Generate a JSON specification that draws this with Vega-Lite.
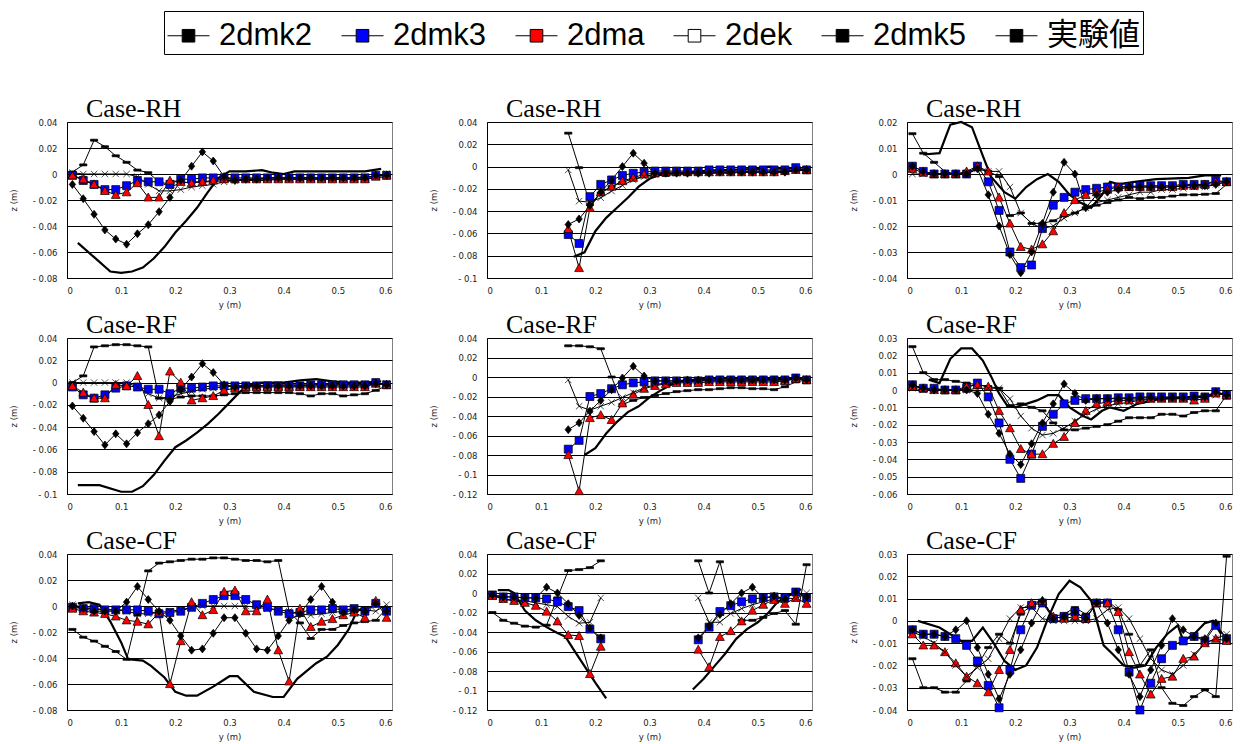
{
"$schema": "https://vega.github.io/schema/vega-lite/v6.json",
"padding": {"left": 8, "top": 10, "right": 4, "bottom": 0},
"data": {"values": [
{"p":1,"x":0.01,"2dmk2":0.0015,"2dmk3":-0.001,"2dma":-0.001,"2dek":0.001,"2dmk5":-0.008},
{"p":1,"x":0.03,"2dmk2":0.007,"2dmk3":-0.005,"2dma":-0.004,"2dek":0.0,"2dmk5":-0.019},
{"p":1,"x":0.05,"2dmk2":0.026,"2dmk3":-0.008,"2dma":-0.008,"2dek":0.0,"2dmk5":-0.031},
{"p":1,"x":0.07,"2dmk2":0.021,"2dmk3":-0.012,"2dma":-0.013,"2dek":0.0,"2dmk5":-0.043},
{"p":1,"x":0.09,"2dmk2":0.014,"2dmk3":-0.012,"2dma":-0.016,"2dek":0.0,"2dmk5":-0.050},
{"p":1,"x":0.11,"2dmk2":0.009,"2dmk3":-0.009,"2dma":-0.014,"2dek":0.0,"2dmk5":-0.054},
{"p":1,"x":0.13,"2dmk2":0.003,"2dmk3":-0.005,"2dma":-0.007,"2dek":-0.002,"2dmk5":-0.046},
{"p":1,"x":0.15,"2dmk2":0.001,"2dmk3":-0.006,"2dma":-0.018,"2dek":-0.008,"2dmk5":-0.039},
{"p":1,"x":0.17,"2dmk2":-0.006,"2dmk3":-0.006,"2dma":-0.018,"2dek":-0.013,"2dmk5":-0.029},
{"p":1,"x":0.19,"2dmk2":-0.010,"2dmk3":-0.008,"2dma":-0.005,"2dek":-0.013,"2dmk5":-0.018},
{"p":1,"x":0.21,"2dmk2":-0.007,"2dmk3":-0.004,"2dma":-0.006,"2dek":-0.012,"2dmk5":-0.005},
{"p":1,"x":0.23,"2dmk2":-0.006,"2dmk3":-0.004,"2dma":-0.007,"2dek":-0.010,"2dmk5":0.006},
{"p":1,"x":0.25,"2dmk2":-0.006,"2dmk3":-0.003,"2dma":-0.006,"2dek":-0.009,"2dmk5":0.017},
{"p":1,"x":0.27,"2dmk2":-0.006,"2dmk3":-0.003,"2dma":-0.005,"2dek":-0.008,"2dmk5":0.010},
{"p":1,"x":0.29,"2dmk2":-0.005,"2dmk3":-0.003,"2dma":-0.004,"2dek":-0.006,"2dmk5":-0.002},
{"p":1,"x":0.31,"2dmk2":-0.005,"2dmk3":-0.003,"2dma":-0.004,"2dek":-0.005,"2dmk5":-0.005},
{"p":1,"x":0.33,"2dmk2":-0.005,"2dmk3":-0.003,"2dma":-0.004,"2dek":-0.004,"2dmk5":-0.004},
{"p":1,"x":0.35,"2dmk2":-0.005,"2dmk3":-0.003,"2dma":-0.004,"2dek":-0.004,"2dmk5":-0.004},
{"p":1,"x":0.37,"2dmk2":-0.005,"2dmk3":-0.003,"2dma":-0.004,"2dek":-0.003,"2dmk5":-0.003},
{"p":1,"x":0.39,"2dmk2":-0.004,"2dmk3":-0.003,"2dma":-0.004,"2dek":-0.003,"2dmk5":-0.003},
{"p":1,"x":0.41,"2dmk2":-0.004,"2dmk3":-0.003,"2dma":-0.004,"2dek":-0.003,"2dmk5":-0.003},
{"p":1,"x":0.43,"2dmk2":-0.004,"2dmk3":-0.003,"2dma":-0.004,"2dek":-0.003,"2dmk5":-0.003},
{"p":1,"x":0.45,"2dmk2":-0.004,"2dmk3":-0.003,"2dma":-0.004,"2dek":-0.003,"2dmk5":-0.003},
{"p":1,"x":0.47,"2dmk2":-0.004,"2dmk3":-0.003,"2dma":-0.004,"2dek":-0.003,"2dmk5":-0.003},
{"p":1,"x":0.49,"2dmk2":-0.004,"2dmk3":-0.003,"2dma":-0.004,"2dek":-0.003,"2dmk5":-0.003},
{"p":1,"x":0.51,"2dmk2":-0.004,"2dmk3":-0.003,"2dma":-0.004,"2dek":-0.003,"2dmk5":-0.003},
{"p":1,"x":0.53,"2dmk2":-0.004,"2dmk3":-0.003,"2dma":-0.004,"2dek":-0.003,"2dmk5":-0.003},
{"p":1,"x":0.55,"2dmk2":-0.004,"2dmk3":-0.003,"2dma":-0.004,"2dek":-0.002,"2dmk5":-0.003},
{"p":1,"x":0.57,"2dmk2":-0.003,"2dmk3":-0.001,"2dma":-0.002,"2dek":-0.002,"2dmk5":-0.001},
{"p":1,"x":0.59,"2dmk2":-0.002,"2dmk3":-0.001,"2dma":-0.001,"2dek":0.0,"2dmk5":-0.001},
{"p":1,"x":0.02,"実験値":-0.053},{"p":1,"x":0.05,"実験値":-0.064},{"p":1,"x":0.08,"実験値":-0.075},{"p":1,"x":0.10,"実験値":-0.076},{"p":1,"x":0.12,"実験値":-0.075},{"p":1,"x":0.14,"実験値":-0.072},{"p":1,"x":0.16,"実験値":-0.065},{"p":1,"x":0.18,"実験値":-0.056},{"p":1,"x":0.20,"実験値":-0.045},{"p":1,"x":0.22,"実験値":-0.036},{"p":1,"x":0.24,"実験値":-0.026},{"p":1,"x":0.26,"実験値":-0.014},{"p":1,"x":0.28,"実験値":-0.003},{"p":1,"x":0.30,"実験値":0.002},{"p":1,"x":0.33,"実験値":0.002},{"p":1,"x":0.36,"実験値":0.003},{"p":1,"x":0.38,"実験値":0.001},{"p":1,"x":0.40,"実験値":0.0},{"p":1,"x":0.42,"実験値":0.002},{"p":1,"x":0.46,"実験値":0.002},{"p":1,"x":0.50,"実験値":0.002},{"p":1,"x":0.55,"実験値":0.002},{"p":1,"x":0.58,"実験値":0.004},

{"p":2,"x":0.15,"2dmk2":0.030,"2dmk3":-0.061,"2dma":-0.056,"2dek":-0.003,"2dmk5":-0.052},
{"p":2,"x":0.17,"2dmk2":-0.001,"2dmk3":-0.069,"2dma":-0.091,"2dek":-0.031,"2dmk5":-0.047},
{"p":2,"x":0.19,"2dmk2":-0.034,"2dmk3":-0.027,"2dma":-0.037,"2dek":-0.032,"2dmk5":-0.035},
{"p":2,"x":0.21,"2dmk2":-0.024,"2dmk3":-0.016,"2dma":-0.023,"2dek":-0.028,"2dmk5":-0.023},
{"p":2,"x":0.23,"2dmk2":-0.018,"2dmk3":-0.012,"2dma":-0.018,"2dek":-0.022,"2dmk5":-0.012},
{"p":2,"x":0.25,"2dmk2":-0.014,"2dmk3":-0.008,"2dma":-0.013,"2dek":-0.017,"2dmk5":0.0},
{"p":2,"x":0.27,"2dmk2":-0.011,"2dmk3":-0.006,"2dma":-0.010,"2dek":-0.012,"2dmk5":0.012},
{"p":2,"x":0.29,"2dmk2":-0.009,"2dmk3":-0.005,"2dma":-0.007,"2dek":-0.009,"2dmk5":0.003},
{"p":2,"x":0.31,"2dmk2":-0.008,"2dmk3":-0.004,"2dma":-0.006,"2dek":-0.007,"2dmk5":-0.006},
{"p":2,"x":0.33,"2dmk2":-0.008,"2dmk3":-0.004,"2dma":-0.005,"2dek":-0.006,"2dmk5":-0.006},
{"p":2,"x":0.35,"2dmk2":-0.007,"2dmk3":-0.004,"2dma":-0.005,"2dek":-0.006,"2dmk5":-0.006},
{"p":2,"x":0.37,"2dmk2":-0.007,"2dmk3":-0.004,"2dma":-0.005,"2dek":-0.005,"2dmk5":-0.006},
{"p":2,"x":0.39,"2dmk2":-0.006,"2dmk3":-0.004,"2dma":-0.005,"2dek":-0.005,"2dmk5":-0.006},
{"p":2,"x":0.41,"2dmk2":-0.006,"2dmk3":-0.003,"2dma":-0.005,"2dek":-0.005,"2dmk5":-0.006},
{"p":2,"x":0.43,"2dmk2":-0.006,"2dmk3":-0.003,"2dma":-0.005,"2dek":-0.005,"2dmk5":-0.005},
{"p":2,"x":0.45,"2dmk2":-0.006,"2dmk3":-0.003,"2dma":-0.005,"2dek":-0.005,"2dmk5":-0.005},
{"p":2,"x":0.47,"2dmk2":-0.005,"2dmk3":-0.003,"2dma":-0.005,"2dek":-0.005,"2dmk5":-0.005},
{"p":2,"x":0.49,"2dmk2":-0.005,"2dmk3":-0.003,"2dma":-0.005,"2dek":-0.004,"2dmk5":-0.005},
{"p":2,"x":0.51,"2dmk2":-0.005,"2dmk3":-0.003,"2dma":-0.005,"2dek":-0.004,"2dmk5":-0.005},
{"p":2,"x":0.53,"2dmk2":-0.005,"2dmk3":-0.003,"2dma":-0.005,"2dek":-0.004,"2dmk5":-0.005},
{"p":2,"x":0.55,"2dmk2":-0.005,"2dmk3":-0.003,"2dma":-0.004,"2dek":-0.004,"2dmk5":-0.005},
{"p":2,"x":0.57,"2dmk2":-0.004,"2dmk3":-0.001,"2dma":-0.003,"2dek":-0.003,"2dmk5":-0.003},
{"p":2,"x":0.59,"2dmk2":-0.003,"2dmk3":-0.003,"2dma":-0.003,"2dek":-0.003,"2dmk5":-0.003},
{"p":2,"x":0.16,"実験値":-0.081},{"p":2,"x":0.18,"実験値":-0.077},{"p":2,"x":0.20,"実験値":-0.058},{"p":2,"x":0.22,"実験値":-0.046},{"p":2,"x":0.24,"実験値":-0.037},{"p":2,"x":0.26,"実験値":-0.028},{"p":2,"x":0.28,"実験値":-0.018},{"p":2,"x":0.30,"実験値":-0.011},{"p":2,"x":0.32,"実験値":-0.007},{"p":2,"x":0.35,"実験値":-0.006},{"p":2,"x":0.40,"実験値":-0.004},{"p":2,"x":0.45,"実験値":-0.003},{"p":2,"x":0.50,"実験値":-0.002},{"p":2,"x":0.52,"実験値":0.0},{"p":2,"x":0.55,"実験値":-0.002},{"p":2,"x":0.58,"実験値":-0.001},

{"p":3,"x":0.01,"2dmk2":0.0155,"2dmk3":0.003,"2dma":0.002,"2dek":0.0,"2dmk5":0.003},
{"p":3,"x":0.03,"2dmk2":0.008,"2dmk3":0.001,"2dma":0.0005,"2dek":0.0,"2dmk5":0.001},
{"p":3,"x":0.05,"2dmk2":0.0045,"2dmk3":0.0,"2dma":0.0,"2dek":0.0,"2dmk5":0.0},
{"p":3,"x":0.07,"2dmk2":0.001,"2dmk3":0.0,"2dma":0.0,"2dek":0.0,"2dmk5":0.0},
{"p":3,"x":0.09,"2dmk2":0.0,"2dmk3":0.0,"2dma":0.0,"2dek":0.0,"2dmk5":0.0},
{"p":3,"x":0.11,"2dmk2":0.0,"2dmk3":0.0,"2dma":0.001,"2dek":0.0,"2dmk5":0.0},
{"p":3,"x":0.13,"2dmk2":0.002,"2dmk3":0.003,"2dma":0.003,"2dek":0.002,"2dmk5":0.002},
{"p":3,"x":0.15,"2dmk2":0.001,"2dmk3":-0.003,"2dma":0.001,"2dek":0.001,"2dmk5":-0.008},
{"p":3,"x":0.17,"2dmk2":-0.001,"2dmk3":-0.014,"2dma":-0.009,"2dek":0.001,"2dmk5":-0.020},
{"p":3,"x":0.19,"2dmk2":-0.016,"2dmk3":-0.030,"2dma":-0.019,"2dek":-0.005,"2dmk5":-0.031},
{"p":3,"x":0.21,"2dmk2":-0.015,"2dmk3":-0.036,"2dma":-0.028,"2dek":-0.015,"2dmk5":-0.038},
{"p":3,"x":0.23,"2dmk2":-0.019,"2dmk3":-0.035,"2dma":-0.029,"2dek":-0.019,"2dmk5":-0.030},
{"p":3,"x":0.25,"2dmk2":-0.019,"2dmk3":-0.021,"2dma":-0.027,"2dek":-0.021,"2dmk5":-0.019},
{"p":3,"x":0.27,"2dmk2":-0.018,"2dmk3":-0.012,"2dma":-0.022,"2dek":-0.020,"2dmk5":-0.007},
{"p":3,"x":0.29,"2dmk2":-0.016,"2dmk3":-0.009,"2dma":-0.015,"2dek":-0.017,"2dmk5":0.0045},
{"p":3,"x":0.31,"2dmk2":-0.015,"2dmk3":-0.007,"2dma":-0.010,"2dek":-0.015,"2dmk5":0.0},
{"p":3,"x":0.33,"2dmk2":-0.013,"2dmk3":-0.006,"2dma":-0.008,"2dek":-0.013,"2dmk5":-0.013},
{"p":3,"x":0.35,"2dmk2":-0.012,"2dmk3":-0.0055,"2dma":-0.007,"2dek":-0.011,"2dmk5":-0.008},
{"p":3,"x":0.37,"2dmk2":-0.011,"2dmk3":-0.005,"2dma":-0.006,"2dek":-0.010,"2dmk5":-0.007},
{"p":3,"x":0.39,"2dmk2":-0.010,"2dmk3":-0.005,"2dma":-0.005,"2dek":-0.009,"2dmk5":-0.006},
{"p":3,"x":0.41,"2dmk2":-0.009,"2dmk3":-0.0048,"2dma":-0.005,"2dek":-0.008,"2dmk5":-0.005},
{"p":3,"x":0.43,"2dmk2":-0.0095,"2dmk3":-0.0046,"2dma":-0.005,"2dek":-0.007,"2dmk5":-0.005},
{"p":3,"x":0.45,"2dmk2":-0.009,"2dmk3":-0.0045,"2dma":-0.005,"2dek":-0.007,"2dmk5":-0.005},
{"p":3,"x":0.47,"2dmk2":-0.009,"2dmk3":-0.0045,"2dma":-0.005,"2dek":-0.006,"2dmk5":-0.005},
{"p":3,"x":0.49,"2dmk2":-0.0085,"2dmk3":-0.0045,"2dma":-0.005,"2dek":-0.006,"2dmk5":-0.005},
{"p":3,"x":0.51,"2dmk2":-0.008,"2dmk3":-0.004,"2dma":-0.0045,"2dek":-0.0055,"2dmk5":-0.0045},
{"p":3,"x":0.53,"2dmk2":-0.008,"2dmk3":-0.004,"2dma":-0.0045,"2dek":-0.005,"2dmk5":-0.0045},
{"p":3,"x":0.55,"2dmk2":-0.0078,"2dmk3":-0.004,"2dma":-0.004,"2dek":-0.005,"2dmk5":-0.0045},
{"p":3,"x":0.57,"2dmk2":-0.0075,"2dmk3":-0.0025,"2dma":-0.003,"2dek":-0.004,"2dmk5":-0.004},
{"p":3,"x":0.59,"2dmk2":-0.004,"2dmk3":-0.003,"2dma":-0.003,"2dek":-0.003,"2dmk5":-0.003},
{"p":3,"x":0.03,"実験値":0.0075},{"p":3,"x":0.06,"実験値":0.008},{"p":3,"x":0.08,"実験値":0.019},{"p":3,"x":0.10,"実験値":0.020},{"p":3,"x":0.12,"実験値":0.018},{"p":3,"x":0.14,"実験値":0.007},{"p":3,"x":0.155,"実験値":-0.001},{"p":3,"x":0.18,"実験値":-0.007},{"p":3,"x":0.20,"実験値":-0.0095},{"p":3,"x":0.22,"実験値":-0.005},{"p":3,"x":0.24,"実験値":-0.002},{"p":3,"x":0.26,"実験値":0.0},{"p":3,"x":0.28,"実験値":-0.003},{"p":3,"x":0.30,"実験値":-0.008},{"p":3,"x":0.32,"実験値":-0.011},{"p":3,"x":0.34,"実験値":-0.013},{"p":3,"x":0.36,"実験値":-0.008},{"p":3,"x":0.375,"実験値":-0.003},{"p":3,"x":0.39,"実験値":-0.004},{"p":3,"x":0.42,"実験値":-0.003},{"p":3,"x":0.46,"実験値":-0.002},{"p":3,"x":0.52,"実験値":-0.0015},{"p":3,"x":0.55,"実験値":-0.0005},{"p":3,"x":0.58,"実験値":-0.0005},

{"p":4,"x":0.01,"2dmk2":0.0,"2dmk3":-0.004,"2dma":-0.003,"2dek":0.0,"2dmk5":-0.021},
{"p":4,"x":0.03,"2dmk2":0.006,"2dmk3":-0.011,"2dma":-0.009,"2dek":0.0,"2dmk5":-0.032},
{"p":4,"x":0.05,"2dmk2":0.032,"2dmk3":-0.014,"2dma":-0.014,"2dek":0.0,"2dmk5":-0.044},
{"p":4,"x":0.07,"2dmk2":0.033,"2dmk3":-0.011,"2dma":-0.014,"2dek":0.0,"2dmk5":-0.056},
{"p":4,"x":0.09,"2dmk2":0.034,"2dmk3":-0.005,"2dma":-0.002,"2dek":0.0,"2dmk5":-0.046},
{"p":4,"x":0.11,"2dmk2":0.034,"2dmk3":-0.003,"2dma":-0.003,"2dek":0.0,"2dmk5":-0.055},
{"p":4,"x":0.13,"2dmk2":0.033,"2dmk3":-0.004,"2dma":0.006,"2dek":-0.004,"2dmk5":-0.045},
{"p":4,"x":0.15,"2dmk2":0.032,"2dmk3":-0.006,"2dma":-0.020,"2dek":-0.010,"2dmk5":-0.037},
{"p":4,"x":0.17,"2dmk2":-0.014,"2dmk3":-0.006,"2dma":-0.048,"2dek":-0.014,"2dmk5":-0.029},
{"p":4,"x":0.19,"2dmk2":-0.015,"2dmk3":-0.010,"2dma":0.010,"2dek":-0.013,"2dmk5":-0.017},
{"p":4,"x":0.21,"2dmk2":-0.013,"2dmk3":-0.005,"2dma":0.0,"2dek":-0.010,"2dmk5":-0.006},
{"p":4,"x":0.23,"2dmk2":-0.012,"2dmk3":-0.005,"2dma":-0.016,"2dek":-0.008,"2dmk5":0.005},
{"p":4,"x":0.25,"2dmk2":-0.012,"2dmk3":-0.004,"2dma":-0.014,"2dek":-0.006,"2dmk5":0.017},
{"p":4,"x":0.27,"2dmk2":-0.012,"2dmk3":-0.003,"2dma":-0.012,"2dek":-0.005,"2dmk5":0.009},
{"p":4,"x":0.29,"2dmk2":-0.011,"2dmk3":-0.003,"2dma":-0.007,"2dek":-0.004,"2dmk5":-0.002},
{"p":4,"x":0.31,"2dmk2":-0.010,"2dmk3":-0.003,"2dma":-0.005,"2dek":-0.003,"2dmk5":-0.004},
{"p":4,"x":0.33,"2dmk2":-0.009,"2dmk3":-0.003,"2dma":-0.004,"2dek":-0.003,"2dmk5":-0.003},
{"p":4,"x":0.35,"2dmk2":-0.009,"2dmk3":-0.003,"2dma":-0.004,"2dek":-0.003,"2dmk5":-0.003},
{"p":4,"x":0.37,"2dmk2":-0.009,"2dmk3":-0.003,"2dma":-0.004,"2dek":-0.002,"2dmk5":-0.003},
{"p":4,"x":0.39,"2dmk2":-0.009,"2dmk3":-0.003,"2dma":-0.004,"2dek":-0.002,"2dmk5":-0.003},
{"p":4,"x":0.41,"2dmk2":-0.009,"2dmk3":-0.003,"2dma":-0.004,"2dek":-0.002,"2dmk5":-0.003},
{"p":4,"x":0.43,"2dmk2":-0.010,"2dmk3":-0.003,"2dma":-0.004,"2dek":-0.002,"2dmk5":-0.003},
{"p":4,"x":0.45,"2dmk2":-0.012,"2dmk3":-0.002,"2dma":-0.004,"2dek":-0.002,"2dmk5":-0.003},
{"p":4,"x":0.47,"2dmk2":-0.010,"2dmk3":-0.002,"2dma":-0.004,"2dek":-0.002,"2dmk5":-0.003},
{"p":4,"x":0.49,"2dmk2":-0.010,"2dmk3":-0.002,"2dma":-0.004,"2dek":-0.002,"2dmk5":-0.003},
{"p":4,"x":0.51,"2dmk2":-0.012,"2dmk3":-0.002,"2dma":-0.004,"2dek":-0.002,"2dmk5":-0.003},
{"p":4,"x":0.53,"2dmk2":-0.011,"2dmk3":-0.002,"2dma":-0.004,"2dek":-0.002,"2dmk5":-0.003},
{"p":4,"x":0.55,"2dmk2":-0.010,"2dmk3":-0.002,"2dma":-0.004,"2dek":-0.002,"2dmk5":-0.003},
{"p":4,"x":0.57,"2dmk2":-0.007,"2dmk3":0.0,"2dma":-0.001,"2dek":-0.001,"2dmk5":-0.001},
{"p":4,"x":0.59,"2dmk2":-0.003,"2dmk3":-0.002,"2dma":-0.002,"2dek":-0.001,"2dmk5":-0.002},
{"p":4,"x":0.02,"実験値":-0.092},{"p":4,"x":0.06,"実験値":-0.092},{"p":4,"x":0.10,"実験値":-0.098},{"p":4,"x":0.12,"実験値":-0.098},{"p":4,"x":0.14,"実験値":-0.093},{"p":4,"x":0.16,"実験値":-0.083},{"p":4,"x":0.18,"実験値":-0.070},{"p":4,"x":0.20,"実験値":-0.058},{"p":4,"x":0.22,"実験値":-0.052},{"p":4,"x":0.24,"実験値":-0.045},{"p":4,"x":0.26,"実験値":-0.037},{"p":4,"x":0.28,"実験値":-0.028},{"p":4,"x":0.30,"実験値":-0.018},{"p":4,"x":0.32,"実験値":-0.008},{"p":4,"x":0.34,"実験値":-0.002},{"p":4,"x":0.36,"実験値":0.0},{"p":4,"x":0.40,"実験値":0.0},{"p":4,"x":0.43,"実験値":0.002},{"p":4,"x":0.46,"実験値":0.003},{"p":4,"x":0.49,"実験値":0.001},{"p":4,"x":0.52,"実験値":0.0},{"p":4,"x":0.55,"実験値":0.0},{"p":4,"x":0.58,"実験値":0.001},

{"p":5,"x":0.15,"2dmk2":0.032,"2dmk3":-0.074,"2dma":-0.080,"2dek":-0.003,"2dmk5":-0.054},
{"p":5,"x":0.17,"2dmk2":0.032,"2dmk3":-0.065,"2dma":-0.117,"2dek":-0.030,"2dmk5":-0.047},
{"p":5,"x":0.19,"2dmk2":0.031,"2dmk3":-0.020,"2dma":-0.042,"2dek":-0.034,"2dmk5":-0.035},
{"p":5,"x":0.21,"2dmk2":0.029,"2dmk3":-0.017,"2dma":-0.039,"2dek":-0.030,"2dmk5":-0.024},
{"p":5,"x":0.23,"2dmk2":0.0,"2dmk3":-0.012,"2dma":-0.044,"2dek":-0.026,"2dmk5":-0.013},
{"p":5,"x":0.25,"2dmk2":-0.028,"2dmk3":-0.008,"2dma":-0.027,"2dek":-0.021,"2dmk5":-0.001},
{"p":5,"x":0.27,"2dmk2":-0.024,"2dmk3":-0.006,"2dma":-0.018,"2dek":-0.016,"2dmk5":0.011},
{"p":5,"x":0.29,"2dmk2":-0.021,"2dmk3":-0.005,"2dma":-0.012,"2dek":-0.011,"2dmk5":0.001},
{"p":5,"x":0.31,"2dmk2":-0.019,"2dmk3":-0.004,"2dma":-0.009,"2dek":-0.008,"2dmk5":-0.004},
{"p":5,"x":0.33,"2dmk2":-0.017,"2dmk3":-0.004,"2dma":-0.007,"2dek":-0.006,"2dmk5":-0.004},
{"p":5,"x":0.35,"2dmk2":-0.015,"2dmk3":-0.004,"2dma":-0.006,"2dek":-0.005,"2dmk5":-0.004},
{"p":5,"x":0.37,"2dmk2":-0.014,"2dmk3":-0.004,"2dma":-0.006,"2dek":-0.005,"2dmk5":-0.003},
{"p":5,"x":0.39,"2dmk2":-0.013,"2dmk3":-0.004,"2dma":-0.006,"2dek":-0.004,"2dmk5":-0.003},
{"p":5,"x":0.41,"2dmk2":-0.013,"2dmk3":-0.003,"2dma":-0.005,"2dek":-0.004,"2dmk5":-0.003},
{"p":5,"x":0.43,"2dmk2":-0.012,"2dmk3":-0.003,"2dma":-0.005,"2dek":-0.004,"2dmk5":-0.003},
{"p":5,"x":0.45,"2dmk2":-0.011,"2dmk3":-0.003,"2dma":-0.005,"2dek":-0.004,"2dmk5":-0.003},
{"p":5,"x":0.47,"2dmk2":-0.011,"2dmk3":-0.003,"2dma":-0.005,"2dek":-0.004,"2dmk5":-0.003},
{"p":5,"x":0.49,"2dmk2":-0.012,"2dmk3":-0.003,"2dma":-0.005,"2dek":-0.004,"2dmk5":-0.003},
{"p":5,"x":0.51,"2dmk2":-0.012,"2dmk3":-0.003,"2dma":-0.005,"2dek":-0.003,"2dmk5":-0.003},
{"p":5,"x":0.53,"2dmk2":-0.013,"2dmk3":-0.003,"2dma":-0.005,"2dek":-0.003,"2dmk5":-0.003},
{"p":5,"x":0.55,"2dmk2":-0.010,"2dmk3":-0.003,"2dma":-0.004,"2dek":-0.003,"2dmk5":-0.003},
{"p":5,"x":0.57,"2dmk2":-0.005,"2dmk3":-0.001,"2dma":-0.002,"2dek":-0.002,"2dmk5":-0.001},
{"p":5,"x":0.59,"2dmk2":-0.003,"2dmk3":-0.003,"2dma":-0.003,"2dek":-0.002,"2dmk5":-0.003},
{"p":5,"x":0.18,"実験値":-0.080},{"p":5,"x":0.20,"実験値":-0.073},{"p":5,"x":0.22,"実験値":-0.058},{"p":5,"x":0.24,"実験値":-0.046},{"p":5,"x":0.26,"実験値":-0.036},{"p":5,"x":0.28,"実験値":-0.030},{"p":5,"x":0.30,"実験値":-0.021},{"p":5,"x":0.32,"実験値":-0.014},{"p":5,"x":0.34,"実験値":-0.008},{"p":5,"x":0.36,"実験値":-0.004},{"p":5,"x":0.40,"実験値":-0.002},{"p":5,"x":0.45,"実験値":-0.001},{"p":5,"x":0.50,"実験値":-0.002},{"p":5,"x":0.55,"実験値":-0.002},{"p":5,"x":0.58,"実験値":-0.001},

{"p":6,"x":0.01,"2dmk2":0.025,"2dmk3":0.003,"2dma":0.002,"2dek":0.001,"2dmk5":0.003},
{"p":6,"x":0.03,"2dmk2":0.010,"2dmk3":0.001,"2dma":0.001,"2dek":0.0,"2dmk5":0.001},
{"p":6,"x":0.05,"2dmk2":0.006,"2dmk3":0.001,"2dma":0.0,"2dek":0.0,"2dmk5":0.0},
{"p":6,"x":0.07,"2dmk2":0.006,"2dmk3":0.0,"2dma":0.0,"2dek":0.0,"2dmk5":0.0},
{"p":6,"x":0.09,"2dmk2":0.005,"2dmk3":0.0,"2dma":0.0,"2dek":0.0,"2dmk5":0.0},
{"p":6,"x":0.11,"2dmk2":0.004,"2dmk3":0.001,"2dma":0.002,"2dek":0.0,"2dmk5":0.0},
{"p":6,"x":0.13,"2dmk2":0.003,"2dmk3":0.004,"2dma":0.003,"2dek":0.001,"2dmk5":-0.002},
{"p":6,"x":0.15,"2dmk2":0.002,"2dmk3":-0.004,"2dma":0.002,"2dek":0.001,"2dmk5":-0.014},
{"p":6,"x":0.17,"2dmk2":0.001,"2dmk3":-0.019,"2dma":-0.012,"2dek":0.001,"2dmk5":-0.025},
{"p":6,"x":0.19,"2dmk2":-0.009,"2dmk3":-0.040,"2dma":-0.022,"2dek":-0.005,"2dmk5":-0.037},
{"p":6,"x":0.21,"2dmk2":-0.008,"2dmk3":-0.051,"2dma":-0.034,"2dek":-0.015,"2dmk5":-0.043},
{"p":6,"x":0.23,"2dmk2":-0.010,"2dmk3":-0.037,"2dma":-0.037,"2dek":-0.022,"2dmk5":-0.031},
{"p":6,"x":0.25,"2dmk2":-0.012,"2dmk3":-0.021,"2dma":-0.037,"2dek":-0.026,"2dmk5":-0.019},
{"p":6,"x":0.27,"2dmk2":-0.019,"2dmk3":-0.014,"2dma":-0.031,"2dek":-0.025,"2dmk5":-0.008},
{"p":6,"x":0.29,"2dmk2":-0.023,"2dmk3":-0.008,"2dma":-0.027,"2dek":-0.022,"2dmk5":0.0035},
{"p":6,"x":0.31,"2dmk2":-0.023,"2dmk3":-0.006,"2dma":-0.019,"2dek":-0.018,"2dmk5":-0.002},
{"p":6,"x":0.33,"2dmk2":-0.022,"2dmk3":-0.005,"2dma":-0.012,"2dek":-0.014,"2dmk5":-0.006},
{"p":6,"x":0.35,"2dmk2":-0.021,"2dmk3":-0.005,"2dma":-0.008,"2dek":-0.011,"2dmk5":-0.005},
{"p":6,"x":0.37,"2dmk2":-0.020,"2dmk3":-0.005,"2dma":-0.007,"2dek":-0.009,"2dmk5":-0.005},
{"p":6,"x":0.39,"2dmk2":-0.018,"2dmk3":-0.0045,"2dma":-0.006,"2dek":-0.008,"2dmk5":-0.005},
{"p":6,"x":0.41,"2dmk2":-0.016,"2dmk3":-0.0045,"2dma":-0.006,"2dek":-0.007,"2dmk5":-0.005},
{"p":6,"x":0.43,"2dmk2":-0.016,"2dmk3":-0.004,"2dma":-0.0055,"2dek":-0.006,"2dmk5":-0.0045},
{"p":6,"x":0.45,"2dmk2":-0.016,"2dmk3":-0.004,"2dma":-0.005,"2dek":-0.0055,"2dmk5":-0.0045},
{"p":6,"x":0.47,"2dmk2":-0.014,"2dmk3":-0.004,"2dma":-0.005,"2dek":-0.005,"2dmk5":-0.0045},
{"p":6,"x":0.49,"2dmk2":-0.014,"2dmk3":-0.004,"2dma":-0.005,"2dek":-0.005,"2dmk5":-0.0045},
{"p":6,"x":0.51,"2dmk2":-0.015,"2dmk3":-0.004,"2dma":-0.005,"2dek":-0.005,"2dmk5":-0.0045},
{"p":6,"x":0.53,"2dmk2":-0.013,"2dmk3":-0.0035,"2dma":-0.006,"2dek":-0.0045,"2dmk5":-0.004},
{"p":6,"x":0.55,"2dmk2":-0.012,"2dmk3":-0.004,"2dma":-0.005,"2dek":-0.004,"2dmk5":-0.004},
{"p":6,"x":0.57,"2dmk2":-0.012,"2dmk3":-0.001,"2dma":-0.002,"2dek":-0.003,"2dmk5":-0.001},
{"p":6,"x":0.59,"2dmk2":-0.003,"2dmk3":-0.003,"2dma":-0.003,"2dek":-0.002,"2dmk5":-0.003},
{"p":6,"x":0.04,"実験値":0.006},{"p":6,"x":0.06,"実験値":0.004},{"p":6,"x":0.08,"実験値":0.018},{"p":6,"x":0.10,"実験値":0.024},{"p":6,"x":0.12,"実験値":0.024},{"p":6,"x":0.14,"実験値":0.017},{"p":6,"x":0.155,"実験値":0.008},{"p":6,"x":0.17,"実験値":-0.002},{"p":6,"x":0.185,"実験値":-0.009},{"p":6,"x":0.20,"実験値":-0.010},{"p":6,"x":0.22,"実験値":-0.008},{"p":6,"x":0.24,"実験値":-0.006},{"p":6,"x":0.26,"実験値":-0.003},{"p":6,"x":0.28,"実験値":-0.003},{"p":6,"x":0.30,"実験値":-0.010},{"p":6,"x":0.325,"実験値":-0.015},{"p":6,"x":0.34,"実験値":-0.017},{"p":6,"x":0.36,"実験値":-0.012},{"p":6,"x":0.375,"実験値":-0.010},{"p":6,"x":0.40,"実験値":-0.012},{"p":6,"x":0.425,"実験値":-0.008},{"p":6,"x":0.47,"実験値":-0.005},{"p":6,"x":0.535,"実験値":-0.004},{"p":6,"x":0.585,"実験値":-0.002},

{"p":7,"x":0.01,"2dmk2":-0.018,"2dmk3":-0.001,"2dma":-0.002,"2dek":0.001,"2dmk5":0.0},
{"p":7,"x":0.03,"2dmk2":-0.024,"2dmk3":-0.002,"2dma":-0.004,"2dek":-0.001,"2dmk5":-0.002},
{"p":7,"x":0.05,"2dmk2":-0.027,"2dmk3":-0.002,"2dma":-0.005,"2dek":-0.002,"2dmk5":-0.004},
{"p":7,"x":0.07,"2dmk2":-0.031,"2dmk3":-0.003,"2dma":-0.006,"2dek":-0.003,"2dmk5":-0.004},
{"p":7,"x":0.09,"2dmk2":-0.035,"2dmk3":-0.003,"2dma":-0.008,"2dek":-0.003,"2dmk5":-0.004},
{"p":7,"x":0.11,"2dmk2":-0.041,"2dmk3":-0.003,"2dma":-0.011,"2dek":-0.004,"2dmk5":0.003},
{"p":7,"x":0.13,"2dmk2":-0.007,"2dmk3":-0.003,"2dma":-0.012,"2dek":-0.006,"2dmk5":0.015},
{"p":7,"x":0.15,"2dmk2":0.027,"2dmk3":-0.004,"2dma":-0.014,"2dek":-0.006,"2dmk5":0.005},
{"p":7,"x":0.17,"2dmk2":0.033,"2dmk3":-0.006,"2dma":-0.005,"2dek":-0.005,"2dmk5":-0.004},
{"p":7,"x":0.19,"2dmk2":0.034,"2dmk3":-0.005,"2dma":-0.060,"2dek":-0.004,"2dmk5":-0.011},
{"p":7,"x":0.21,"2dmk2":0.035,"2dmk3":-0.004,"2dma":-0.027,"2dek":-0.003,"2dmk5":-0.023},
{"p":7,"x":0.23,"2dmk2":0.036,"2dmk3":-0.001,"2dma":0.003,"2dek":-0.001,"2dmk5":-0.034},
{"p":7,"x":0.25,"2dmk2":0.036,"2dmk3":0.002,"2dma":-0.007,"2dek":0.0,"2dmk5":-0.033},
{"p":7,"x":0.27,"2dmk2":0.037,"2dmk3":0.005,"2dma":-0.003,"2dek":0.0,"2dmk5":-0.021},
{"p":7,"x":0.29,"2dmk2":0.037,"2dmk3":0.008,"2dma":0.011,"2dek":0.0,"2dmk5":-0.009},
{"p":7,"x":0.31,"2dmk2":0.036,"2dmk3":0.008,"2dma":0.012,"2dek":0.0,"2dmk5":-0.009},
{"p":7,"x":0.33,"2dmk2":0.035,"2dmk3":0.005,"2dma":-0.004,"2dek":0.0,"2dmk5":-0.021},
{"p":7,"x":0.35,"2dmk2":0.035,"2dmk3":0.001,"2dma":-0.004,"2dek":-0.001,"2dmk5":-0.033},
{"p":7,"x":0.37,"2dmk2":0.034,"2dmk3":-0.001,"2dma":0.005,"2dek":-0.002,"2dmk5":-0.034},
{"p":7,"x":0.39,"2dmk2":0.035,"2dmk3":-0.004,"2dma":-0.034,"2dek":-0.003,"2dmk5":-0.023},
{"p":7,"x":0.41,"2dmk2":-0.004,"2dmk3":-0.006,"2dma":-0.058,"2dek":-0.004,"2dmk5":-0.011},
{"p":7,"x":0.43,"2dmk2":-0.013,"2dmk3":-0.005,"2dma":-0.002,"2dek":-0.006,"2dmk5":-0.006},
{"p":7,"x":0.45,"2dmk2":-0.025,"2dmk3":-0.003,"2dma":-0.016,"2dek":-0.007,"2dmk5":0.005},
{"p":7,"x":0.47,"2dmk2":-0.018,"2dmk3":-0.003,"2dma":-0.012,"2dek":-0.006,"2dmk5":0.015},
{"p":7,"x":0.49,"2dmk2":-0.018,"2dmk3":-0.002,"2dma":-0.010,"2dek":-0.005,"2dmk5":0.003},
{"p":7,"x":0.51,"2dmk2":-0.015,"2dmk3":-0.003,"2dma":-0.007,"2dek":-0.004,"2dmk5":-0.005},
{"p":7,"x":0.53,"2dmk2":-0.013,"2dmk3":-0.002,"2dma":-0.005,"2dek":-0.002,"2dmk5":-0.003},
{"p":7,"x":0.55,"2dmk2":-0.012,"2dmk3":-0.004,"2dma":-0.009,"2dek":-0.003,"2dmk5":-0.004},
{"p":7,"x":0.57,"2dmk2":-0.011,"2dmk3":0.002,"2dma":0.004,"2dek":-0.004,"2dmk5":0.002},
{"p":7,"x":0.59,"2dmk2":-0.002,"2dmk3":-0.004,"2dma":-0.009,"2dek":0.001,"2dmk5":-0.004},
{"p":7,"x":0.02,"実験値":0.002},{"p":7,"x":0.04,"実験値":0.003},{"p":7,"x":0.06,"実験値":0.001},{"p":7,"x":0.08,"実験値":-0.012},{"p":7,"x":0.10,"実験値":-0.028},{"p":7,"x":0.113,"実験値":-0.041},{"p":7,"x":0.14,"実験値":-0.042},{"p":7,"x":0.155,"実験値":-0.046},{"p":7,"x":0.18,"実験値":-0.055},{"p":7,"x":0.20,"実験値":-0.066},{"p":7,"x":0.22,"実験値":-0.069},{"p":7,"x":0.24,"実験値":-0.069},{"p":7,"x":0.27,"実験値":-0.062},{"p":7,"x":0.30,"実験値":-0.054},{"p":7,"x":0.315,"実験値":-0.054},{"p":7,"x":0.345,"実験値":-0.066},{"p":7,"x":0.38,"実験値":-0.070},{"p":7,"x":0.40,"実験値":-0.070},{"p":7,"x":0.425,"実験値":-0.056},{"p":7,"x":0.46,"実験値":-0.044},{"p":7,"x":0.48,"実験値":-0.039},{"p":7,"x":0.50,"実験値":-0.030},{"p":7,"x":0.52,"実験値":-0.018},{"p":7,"x":0.535,"実験値":-0.004},{"p":7,"x":0.55,"実験値":-0.001},

{"p":8,"g":0,"x":0.01,"2dmk2":-0.020,"2dmk3":-0.002,"2dma":-0.003,"2dek":-0.001,"2dmk5":-0.002},
{"p":8,"g":0,"x":0.03,"2dmk2":-0.028,"2dmk3":-0.004,"2dma":-0.006,"2dek":-0.007,"2dmk5":-0.004},
{"p":8,"g":0,"x":0.05,"2dmk2":-0.031,"2dmk3":-0.004,"2dma":-0.008,"2dek":-0.007,"2dmk5":-0.004},
{"p":8,"g":0,"x":0.07,"2dmk2":-0.034,"2dmk3":-0.005,"2dma":-0.010,"2dek":-0.008,"2dmk5":-0.005},
{"p":8,"g":0,"x":0.09,"2dmk2":-0.035,"2dmk3":-0.005,"2dma":-0.013,"2dek":-0.010,"2dmk5":-0.005},
{"p":8,"g":0,"x":0.11,"2dmk2":-0.033,"2dmk3":-0.006,"2dma":-0.019,"2dek":-0.012,"2dmk5":0.006},
{"p":8,"g":0,"x":0.13,"2dmk2":-0.005,"2dmk3":-0.009,"2dma":-0.029,"2dek":-0.014,"2dmk5":0.0},
{"p":8,"g":0,"x":0.15,"2dmk2":0.023,"2dmk3":-0.014,"2dma":-0.043,"2dek":-0.024,"2dmk5":-0.011},
{"p":8,"g":0,"x":0.17,"2dmk2":0.024,"2dmk3":-0.018,"2dma":-0.044,"2dek":-0.031,"2dmk5":-0.023},
{"p":8,"g":0,"x":0.19,"2dmk2":0.026,"2dmk3":-0.037,"2dma":-0.083,"2dek":-0.030,"2dmk5":-0.036},
{"p":8,"g":0,"x":0.21,"2dmk2":0.033,"2dmk3":-0.047,"2dma":-0.055,"2dek":-0.005,"2dmk5":-0.046},
{"p":8,"g":1,"x":0.39,"2dmk2":0.033,"2dmk3":-0.048,"2dma":-0.058,"2dek":-0.005,"2dmk5":-0.046},
{"p":8,"g":1,"x":0.41,"2dmk2":0.0,"2dmk3":-0.035,"2dma":-0.076,"2dek":-0.030,"2dmk5":-0.034},
{"p":8,"g":1,"x":0.43,"2dmk2":0.032,"2dmk3":-0.019,"2dma":-0.045,"2dek":-0.030,"2dmk5":-0.022},
{"p":8,"g":1,"x":0.45,"2dmk2":-0.013,"2dmk3":-0.013,"2dma":-0.039,"2dek":-0.021,"2dmk5":-0.011},
{"p":8,"g":1,"x":0.47,"2dmk2":-0.028,"2dmk3":-0.009,"2dma":-0.029,"2dek":-0.016,"2dmk5":0.0},
{"p":8,"g":1,"x":0.49,"2dmk2":-0.028,"2dmk3":-0.006,"2dma":-0.018,"2dek":-0.012,"2dmk5":0.006},
{"p":8,"g":1,"x":0.51,"2dmk2":-0.025,"2dmk3":-0.005,"2dma":-0.012,"2dek":-0.009,"2dmk5":-0.005},
{"p":8,"g":1,"x":0.53,"2dmk2":-0.021,"2dmk3":-0.004,"2dma":-0.007,"2dek":-0.006,"2dmk5":-0.003},
{"p":8,"g":1,"x":0.55,"2dmk2":-0.018,"2dmk3":-0.005,"2dma":-0.011,"2dek":-0.005,"2dmk5":-0.006},
{"p":8,"g":1,"x":0.57,"2dmk2":-0.032,"2dmk3":0.001,"2dma":-0.005,"2dek":-0.006,"2dmk5":0.001},
{"p":8,"g":1,"x":0.59,"2dmk2":0.029,"2dmk3":-0.005,"2dma":-0.011,"2dek":0.0,"2dmk5":-0.004},
{"p":8,"g":0,"x":0.02,"実験値":0.003},{"p":8,"g":0,"x":0.04,"実験値":0.003},{"p":8,"g":0,"x":0.05,"実験値":0.0},{"p":8,"g":0,"x":0.07,"実験値":-0.018},{"p":8,"g":0,"x":0.09,"実験値":-0.028},{"p":8,"g":0,"x":0.11,"実験値":-0.035},{"p":8,"g":0,"x":0.13,"実験値":-0.041},{"p":8,"g":0,"x":0.145,"実験値":-0.045},{"p":8,"g":0,"x":0.16,"実験値":-0.058},{"p":8,"g":0,"x":0.18,"実験値":-0.075},{"p":8,"g":0,"x":0.20,"実験値":-0.092},{"p":8,"g":0,"x":0.22,"実験値":-0.108},
{"p":8,"g":1,"x":0.38,"実験値":-0.099},{"p":8,"g":1,"x":0.40,"実験値":-0.088},{"p":8,"g":1,"x":0.42,"実験値":-0.075},{"p":8,"g":1,"x":0.44,"実験値":-0.062},{"p":8,"g":1,"x":0.46,"実験値":-0.047},{"p":8,"g":1,"x":0.48,"実験値":-0.037},{"p":8,"g":1,"x":0.50,"実験値":-0.030},{"p":8,"g":1,"x":0.52,"実験値":-0.020},{"p":8,"g":1,"x":0.535,"実験値":-0.010},{"p":8,"g":1,"x":0.55,"実験値":-0.004},{"p":8,"g":1,"x":0.57,"実験値":0.001},{"p":8,"g":1,"x":0.58,"実験値":0.004},

{"p":9,"x":0.01,"2dmk2":-0.017,"2dmk3":-0.004,"2dma":-0.006,"2dek":-0.005,"2dmk5":-0.004},
{"p":9,"x":0.03,"2dmk2":-0.030,"2dmk3":-0.006,"2dma":-0.011,"2dek":-0.007,"2dmk5":-0.006},
{"p":9,"x":0.05,"2dmk2":-0.030,"2dmk3":-0.006,"2dma":-0.011,"2dek":-0.010,"2dmk5":-0.006},
{"p":9,"x":0.07,"2dmk2":-0.032,"2dmk3":-0.007,"2dma":-0.014,"2dek":-0.014,"2dmk5":-0.007},
{"p":9,"x":0.09,"2dmk2":-0.032,"2dmk3":-0.008,"2dma":-0.019,"2dek":-0.020,"2dmk5":-0.004},
{"p":9,"x":0.11,"2dmk2":-0.027,"2dmk3":-0.011,"2dma":-0.025,"2dek":-0.025,"2dmk5":0.0},
{"p":9,"x":0.13,"2dmk2":-0.020,"2dmk3":-0.018,"2dma":-0.028,"2dek":-0.021,"2dmk5":-0.012},
{"p":9,"x":0.15,"2dmk2":-0.012,"2dmk3":-0.029,"2dma":-0.032,"2dek":-0.017,"2dmk5":-0.024},
{"p":9,"x":0.17,"2dmk2":-0.006,"2dmk3":-0.039,"2dma":-0.022,"2dek":-0.008,"2dmk5":-0.035},
{"p":9,"x":0.19,"2dmk2":-0.010,"2dmk3":-0.022,"2dma":-0.013,"2dek":0.001,"2dmk5":-0.024},
{"p":9,"x":0.21,"2dmk2":0.003,"2dmk3":-0.004,"2dma":0.005,"2dek":0.006,"2dmk5":-0.013},
{"p":9,"x":0.23,"2dmk2":0.007,"2dmk3":0.007,"2dma":0.008,"2dek":0.006,"2dmk5":-0.001},
{"p":9,"x":0.25,"2dmk2":0.009,"2dmk3":0.008,"2dma":0.009,"2dek":0.001,"2dmk5":0.009},
{"p":9,"x":0.27,"2dmk2":0.002,"2dmk3":0.001,"2dma":0.002,"2dek":0.0,"2dmk5":0.001},
{"p":9,"x":0.29,"2dmk2":0.003,"2dmk3":0.002,"2dma":0.001,"2dek":0.0,"2dmk5":0.002},
{"p":9,"x":0.31,"2dmk2":0.006,"2dmk3":0.004,"2dma":0.002,"2dek":0.0,"2dmk5":0.004},
{"p":9,"x":0.33,"2dmk2":0.003,"2dmk3":0.001,"2dma":0.001,"2dek":0.0,"2dmk5":0.001},
{"p":9,"x":0.35,"2dmk2":0.008,"2dmk3":0.008,"2dma":0.008,"2dek":0.001,"2dmk5":0.008},
{"p":9,"x":0.37,"2dmk2":0.009,"2dmk3":0.008,"2dma":0.008,"2dek":0.005,"2dmk5":-0.001},
{"p":9,"x":0.39,"2dmk2":0.005,"2dmk3":-0.004,"2dma":0.004,"2dek":0.006,"2dmk5":-0.013},
{"p":9,"x":0.41,"2dmk2":-0.006,"2dmk3":-0.023,"2dma":-0.014,"2dek":0.001,"2dmk5":-0.024},
{"p":9,"x":0.43,"2dmk2":-0.020,"2dmk3":-0.040,"2dma":-0.024,"2dek":-0.008,"2dmk5":-0.034},
{"p":9,"x":0.45,"2dmk2":-0.013,"2dmk3":-0.028,"2dma":-0.033,"2dek":-0.017,"2dmk5":-0.022},
{"p":9,"x":0.47,"2dmk2":-0.030,"2dmk3":-0.017,"2dma":-0.026,"2dek":-0.022,"2dmk5":-0.011},
{"p":9,"x":0.49,"2dmk2":-0.037,"2dmk3":-0.011,"2dma":-0.025,"2dek":-0.024,"2dmk5":0.001},
{"p":9,"x":0.51,"2dmk2":-0.038,"2dmk3":-0.009,"2dma":-0.017,"2dek":-0.020,"2dmk5":-0.004},
{"p":9,"x":0.53,"2dmk2":-0.034,"2dmk3":-0.007,"2dma":-0.016,"2dek":-0.015,"2dmk5":-0.007},
{"p":9,"x":0.55,"2dmk2":-0.031,"2dmk3":-0.009,"2dma":-0.010,"2dek":-0.010,"2dmk5":-0.008},
{"p":9,"x":0.57,"2dmk2":-0.034,"2dmk3":-0.002,"2dma":-0.008,"2dek":-0.008,"2dmk5":-0.001},
{"p":9,"x":0.59,"2dmk2":0.029,"2dmk3":-0.008,"2dma":-0.009,"2dek":-0.006,"2dmk5":-0.008},
{"p":9,"x":0.02,"実験値":0.0},{"p":9,"x":0.06,"実験値":-0.003},{"p":9,"x":0.10,"実験値":-0.009},{"p":9,"x":0.12,"実験値":-0.009},{"p":9,"x":0.14,"実験値":-0.003},{"p":9,"x":0.16,"実験値":-0.010},{"p":9,"x":0.18,"実験値":-0.018},{"p":9,"x":0.20,"実験値":-0.022},{"p":9,"x":0.22,"実験値":-0.020},{"p":9,"x":0.24,"実験値":-0.012},{"p":9,"x":0.26,"実験値":0.001},{"p":9,"x":0.28,"実験値":0.012},{"p":9,"x":0.30,"実験値":0.018},{"p":9,"x":0.32,"実験値":0.015},{"p":9,"x":0.34,"実験値":0.009},{"p":9,"x":0.363,"実験値":-0.011},{"p":9,"x":0.38,"実験値":-0.015},{"p":9,"x":0.40,"実験値":-0.020},{"p":9,"x":0.42,"実験値":-0.021},{"p":9,"x":0.44,"実験値":-0.020},{"p":9,"x":0.46,"実験値":-0.012},{"p":9,"x":0.48,"実験値":-0.006},{"p":9,"x":0.50,"実験値":-0.002},{"p":9,"x":0.51,"実験値":-0.009},{"p":9,"x":0.53,"実験値":-0.006},{"p":9,"x":0.55,"実験値":-0.001},{"p":9,"x":0.565,"実験値":0.0},{"p":9,"x":0.58,"実験値":-0.006}
]},
"transform": [
 {"fold": ["2dmk2","2dmk3","2dma","2dek","2dmk5","実験値"], "as": ["s","z"]},
 {"filter": "isValid(datum.z)"}
],
"columns": 3,
"spacing": {"row": 60, "column": 95},
"bounds": "flush",
"concat": [
{"title":"Case-RH","width":325,"height":156,"transform":[{"filter":"datum.p == 1"}],
 "encoding":{"x":{"field":"x","type":"quantitative","scale":{"domain":[0,0.6],"nice":false},"axis":{"values":[0,0.1,0.2,0.3,0.4,0.5,0.6],"title":"y (m)","labelExpr":"format(datum.value,'~g')"}},
  "y":{"field":"z","type":"quantitative","scale":{"domain":[-0.08,0.04],"nice":false,"zero":false},"axis":{"values":[-0.08,-0.06,-0.04,-0.02,0,0.02,0.04],"title":"z (m)","labelExpr":"datum.value < 0 ? '- ' + format(-datum.value,'~g') : format(datum.value,'~g')"}}},
 "layer":[
  {"transform":[{"filter":"datum.s !== '実験値'"}],"mark":{"type":"line","color":"black","strokeWidth":1},"encoding":{"detail":[{"field":"s"},{"field":"g"}]}},
  {"transform":[{"filter":"datum.s === '実験値'"}],"mark":{"type":"line","color":"black","strokeWidth":2.2},"encoding":{"detail":[{"field":"g"}]}},
  {"transform":[{"filter":"datum.s !== '実験値'"}],"mark":{"type":"point","filled":true,"stroke":"black","strokeWidth":0.7,"size":64,"opacity":1},
   "encoding":{
    "shape":{"field":"s","type":"nominal","scale":{"domain":["2dmk2","2dmk3","2dma","2dek","2dmk5"],"range":["M-0.9,-0.25H0.9V0.25H-0.9Z","M-1,-1H1V1H-1Z","M0,-1.1L1.1,0.9H-1.1Z","M-0.8,-0.8L0.8,0.8M-0.8,0.8L0.8,-0.8","M0,-1L0.8,0L0,1L-0.8,0Z"]},"legend":null},
    "fill":{"field":"s","type":"nominal","scale":{"domain":["2dmk2","2dmk3","2dma","2dek","2dmk5","実験値"],"range":["black","#0000ff","#ff0000","transparent","black","black"]},
     "legend":{"title":null,"orient":"none","legendX":97,"legendY":-111,"direction":"horizontal","columns":6,"symbolSize":1764,"symbolType":"M-1,0H-0.3M0.3,0H1M-0.3,-0.3H0.3V0.3H-0.3Z","labelFont":"Liberation Sans, Noto Sans CJK JP","labelFontSize":31,"labelColor":"black","labelOffset":9,"columnPadding":26,"padding":3,"strokeColor":"black","fillColor":"white","labelLimit":400,"symbolStrokeWidth":1,"symbolStrokeColor":"black"}}}}
 ]},
{"title":"Case-RH","width":325,"height":156,"transform":[{"filter":"datum.p == 2"}],
 "encoding":{"x":{"field":"x","type":"quantitative","scale":{"domain":[0,0.6],"nice":false},"axis":{"values":[0,0.1,0.2,0.3,0.4,0.5,0.6],"title":"y (m)","labelExpr":"format(datum.value,'~g')"}},
  "y":{"field":"z","type":"quantitative","scale":{"domain":[-0.1,0.04],"nice":false,"zero":false},"axis":{"values":[-0.1,-0.08,-0.06,-0.04,-0.02,0,0.02,0.04],"title":"z (m)","labelExpr":"datum.value < 0 ? '- ' + format(-datum.value,'~g') : format(datum.value,'~g')"}}},
 "layer":[
  {"transform":[{"filter":"datum.s !== '実験値'"}],"mark":{"type":"line","color":"black","strokeWidth":1},"encoding":{"detail":[{"field":"s"},{"field":"g"}]}},
  {"transform":[{"filter":"datum.s === '実験値'"}],"mark":{"type":"line","color":"black","strokeWidth":2.2},"encoding":{"detail":[{"field":"g"}]}},
  {"transform":[{"filter":"datum.s !== '実験値'"}],"mark":{"type":"point","filled":true,"stroke":"black","strokeWidth":0.7,"size":64,"opacity":1},
   "encoding":{
    "shape":{"field":"s","type":"nominal","scale":{"domain":["2dmk2","2dmk3","2dma","2dek","2dmk5"],"range":["M-0.9,-0.25H0.9V0.25H-0.9Z","M-1,-1H1V1H-1Z","M0,-1.1L1.1,0.9H-1.1Z","M-0.8,-0.8L0.8,0.8M-0.8,0.8L0.8,-0.8","M0,-1L0.8,0L0,1L-0.8,0Z"]},"legend":null},
    "fill":{"field":"s","type":"nominal","scale":{"domain":["2dmk2","2dmk3","2dma","2dek","2dmk5","実験値"],"range":["black","#0000ff","#ff0000","transparent","black","black"]},
     "legend":{"title":null,"orient":"none","legendX":97,"legendY":-111,"direction":"horizontal","columns":6,"symbolSize":1764,"symbolType":"M-1,0H-0.3M0.3,0H1M-0.3,-0.3H0.3V0.3H-0.3Z","labelFont":"Liberation Sans, Noto Sans CJK JP","labelFontSize":31,"labelColor":"black","labelOffset":9,"columnPadding":26,"padding":3,"strokeColor":"black","fillColor":"white","labelLimit":400,"symbolStrokeWidth":1,"symbolStrokeColor":"black"}}}}
 ]},
{"title":"Case-RH","width":325,"height":156,"transform":[{"filter":"datum.p == 3"}],
 "encoding":{"x":{"field":"x","type":"quantitative","scale":{"domain":[0,0.6],"nice":false},"axis":{"values":[0,0.1,0.2,0.3,0.4,0.5,0.6],"title":"y (m)","labelExpr":"format(datum.value,'~g')"}},
  "y":{"field":"z","type":"quantitative","scale":{"domain":[-0.04,0.02],"nice":false,"zero":false},"axis":{"values":[-0.04,-0.03,-0.02,-0.01,0,0.01,0.02],"title":"z (m)","labelExpr":"datum.value < 0 ? '- ' + format(-datum.value,'~g') : format(datum.value,'~g')"}}},
 "layer":[
  {"transform":[{"filter":"datum.s !== '実験値'"}],"mark":{"type":"line","color":"black","strokeWidth":1},"encoding":{"detail":[{"field":"s"},{"field":"g"}]}},
  {"transform":[{"filter":"datum.s === '実験値'"}],"mark":{"type":"line","color":"black","strokeWidth":2.2},"encoding":{"detail":[{"field":"g"}]}},
  {"transform":[{"filter":"datum.s !== '実験値'"}],"mark":{"type":"point","filled":true,"stroke":"black","strokeWidth":0.7,"size":64,"opacity":1},
   "encoding":{
    "shape":{"field":"s","type":"nominal","scale":{"domain":["2dmk2","2dmk3","2dma","2dek","2dmk5"],"range":["M-0.9,-0.25H0.9V0.25H-0.9Z","M-1,-1H1V1H-1Z","M0,-1.1L1.1,0.9H-1.1Z","M-0.8,-0.8L0.8,0.8M-0.8,0.8L0.8,-0.8","M0,-1L0.8,0L0,1L-0.8,0Z"]},"legend":null},
    "fill":{"field":"s","type":"nominal","scale":{"domain":["2dmk2","2dmk3","2dma","2dek","2dmk5","実験値"],"range":["black","#0000ff","#ff0000","transparent","black","black"]},
     "legend":{"title":null,"orient":"none","legendX":97,"legendY":-111,"direction":"horizontal","columns":6,"symbolSize":1764,"symbolType":"M-1,0H-0.3M0.3,0H1M-0.3,-0.3H0.3V0.3H-0.3Z","labelFont":"Liberation Sans, Noto Sans CJK JP","labelFontSize":31,"labelColor":"black","labelOffset":9,"columnPadding":26,"padding":3,"strokeColor":"black","fillColor":"white","labelLimit":400,"symbolStrokeWidth":1,"symbolStrokeColor":"black"}}}}
 ]},
{"title":"Case-RF","width":325,"height":156,"transform":[{"filter":"datum.p == 4"}],
 "encoding":{"x":{"field":"x","type":"quantitative","scale":{"domain":[0,0.6],"nice":false},"axis":{"values":[0,0.1,0.2,0.3,0.4,0.5,0.6],"title":"y (m)","labelExpr":"format(datum.value,'~g')"}},
  "y":{"field":"z","type":"quantitative","scale":{"domain":[-0.1,0.04],"nice":false,"zero":false},"axis":{"values":[-0.1,-0.08,-0.06,-0.04,-0.02,0,0.02,0.04],"title":"z (m)","labelExpr":"datum.value < 0 ? '- ' + format(-datum.value,'~g') : format(datum.value,'~g')"}}},
 "layer":[
  {"transform":[{"filter":"datum.s !== '実験値'"}],"mark":{"type":"line","color":"black","strokeWidth":1},"encoding":{"detail":[{"field":"s"},{"field":"g"}]}},
  {"transform":[{"filter":"datum.s === '実験値'"}],"mark":{"type":"line","color":"black","strokeWidth":2.2},"encoding":{"detail":[{"field":"g"}]}},
  {"transform":[{"filter":"datum.s !== '実験値'"}],"mark":{"type":"point","filled":true,"stroke":"black","strokeWidth":0.7,"size":64,"opacity":1},
   "encoding":{
    "shape":{"field":"s","type":"nominal","scale":{"domain":["2dmk2","2dmk3","2dma","2dek","2dmk5"],"range":["M-0.9,-0.25H0.9V0.25H-0.9Z","M-1,-1H1V1H-1Z","M0,-1.1L1.1,0.9H-1.1Z","M-0.8,-0.8L0.8,0.8M-0.8,0.8L0.8,-0.8","M0,-1L0.8,0L0,1L-0.8,0Z"]},"legend":null},
    "fill":{"field":"s","type":"nominal","scale":{"domain":["2dmk2","2dmk3","2dma","2dek","2dmk5","実験値"],"range":["black","#0000ff","#ff0000","transparent","black","black"]},
     "legend":{"title":null,"orient":"none","legendX":97,"legendY":-111,"direction":"horizontal","columns":6,"symbolSize":1764,"symbolType":"M-1,0H-0.3M0.3,0H1M-0.3,-0.3H0.3V0.3H-0.3Z","labelFont":"Liberation Sans, Noto Sans CJK JP","labelFontSize":31,"labelColor":"black","labelOffset":9,"columnPadding":26,"padding":3,"strokeColor":"black","fillColor":"white","labelLimit":400,"symbolStrokeWidth":1,"symbolStrokeColor":"black"}}}}
 ]},
{"title":"Case-RF","width":325,"height":156,"transform":[{"filter":"datum.p == 5"}],
 "encoding":{"x":{"field":"x","type":"quantitative","scale":{"domain":[0,0.6],"nice":false},"axis":{"values":[0,0.1,0.2,0.3,0.4,0.5,0.6],"title":"y (m)","labelExpr":"format(datum.value,'~g')"}},
  "y":{"field":"z","type":"quantitative","scale":{"domain":[-0.12,0.04],"nice":false,"zero":false},"axis":{"values":[-0.12,-0.1,-0.08,-0.06,-0.04,-0.02,0,0.02,0.04],"title":"z (m)","labelExpr":"datum.value < 0 ? '- ' + format(-datum.value,'~g') : format(datum.value,'~g')"}}},
 "layer":[
  {"transform":[{"filter":"datum.s !== '実験値'"}],"mark":{"type":"line","color":"black","strokeWidth":1},"encoding":{"detail":[{"field":"s"},{"field":"g"}]}},
  {"transform":[{"filter":"datum.s === '実験値'"}],"mark":{"type":"line","color":"black","strokeWidth":2.2},"encoding":{"detail":[{"field":"g"}]}},
  {"transform":[{"filter":"datum.s !== '実験値'"}],"mark":{"type":"point","filled":true,"stroke":"black","strokeWidth":0.7,"size":64,"opacity":1},
   "encoding":{
    "shape":{"field":"s","type":"nominal","scale":{"domain":["2dmk2","2dmk3","2dma","2dek","2dmk5"],"range":["M-0.9,-0.25H0.9V0.25H-0.9Z","M-1,-1H1V1H-1Z","M0,-1.1L1.1,0.9H-1.1Z","M-0.8,-0.8L0.8,0.8M-0.8,0.8L0.8,-0.8","M0,-1L0.8,0L0,1L-0.8,0Z"]},"legend":null},
    "fill":{"field":"s","type":"nominal","scale":{"domain":["2dmk2","2dmk3","2dma","2dek","2dmk5","実験値"],"range":["black","#0000ff","#ff0000","transparent","black","black"]},
     "legend":{"title":null,"orient":"none","legendX":97,"legendY":-111,"direction":"horizontal","columns":6,"symbolSize":1764,"symbolType":"M-1,0H-0.3M0.3,0H1M-0.3,-0.3H0.3V0.3H-0.3Z","labelFont":"Liberation Sans, Noto Sans CJK JP","labelFontSize":31,"labelColor":"black","labelOffset":9,"columnPadding":26,"padding":3,"strokeColor":"black","fillColor":"white","labelLimit":400,"symbolStrokeWidth":1,"symbolStrokeColor":"black"}}}}
 ]},
{"title":"Case-RF","width":325,"height":156,"transform":[{"filter":"datum.p == 6"}],
 "encoding":{"x":{"field":"x","type":"quantitative","scale":{"domain":[0,0.6],"nice":false},"axis":{"values":[0,0.1,0.2,0.3,0.4,0.5,0.6],"title":"y (m)","labelExpr":"format(datum.value,'~g')"}},
  "y":{"field":"z","type":"quantitative","scale":{"domain":[-0.06,0.03],"nice":false,"zero":false},"axis":{"values":[-0.06,-0.05,-0.04,-0.03,-0.02,-0.01,0,0.01,0.02,0.03],"title":"z (m)","labelExpr":"datum.value < 0 ? '- ' + format(-datum.value,'~g') : format(datum.value,'~g')"}}},
 "layer":[
  {"transform":[{"filter":"datum.s !== '実験値'"}],"mark":{"type":"line","color":"black","strokeWidth":1},"encoding":{"detail":[{"field":"s"},{"field":"g"}]}},
  {"transform":[{"filter":"datum.s === '実験値'"}],"mark":{"type":"line","color":"black","strokeWidth":2.2},"encoding":{"detail":[{"field":"g"}]}},
  {"transform":[{"filter":"datum.s !== '実験値'"}],"mark":{"type":"point","filled":true,"stroke":"black","strokeWidth":0.7,"size":64,"opacity":1},
   "encoding":{
    "shape":{"field":"s","type":"nominal","scale":{"domain":["2dmk2","2dmk3","2dma","2dek","2dmk5"],"range":["M-0.9,-0.25H0.9V0.25H-0.9Z","M-1,-1H1V1H-1Z","M0,-1.1L1.1,0.9H-1.1Z","M-0.8,-0.8L0.8,0.8M-0.8,0.8L0.8,-0.8","M0,-1L0.8,0L0,1L-0.8,0Z"]},"legend":null},
    "fill":{"field":"s","type":"nominal","scale":{"domain":["2dmk2","2dmk3","2dma","2dek","2dmk5","実験値"],"range":["black","#0000ff","#ff0000","transparent","black","black"]},
     "legend":{"title":null,"orient":"none","legendX":97,"legendY":-111,"direction":"horizontal","columns":6,"symbolSize":1764,"symbolType":"M-1,0H-0.3M0.3,0H1M-0.3,-0.3H0.3V0.3H-0.3Z","labelFont":"Liberation Sans, Noto Sans CJK JP","labelFontSize":31,"labelColor":"black","labelOffset":9,"columnPadding":26,"padding":3,"strokeColor":"black","fillColor":"white","labelLimit":400,"symbolStrokeWidth":1,"symbolStrokeColor":"black"}}}}
 ]},
{"title":"Case-CF","width":325,"height":156,"transform":[{"filter":"datum.p == 7"}],
 "encoding":{"x":{"field":"x","type":"quantitative","scale":{"domain":[0,0.6],"nice":false},"axis":{"values":[0,0.1,0.2,0.3,0.4,0.5,0.6],"title":"y (m)","labelExpr":"format(datum.value,'~g')"}},
  "y":{"field":"z","type":"quantitative","scale":{"domain":[-0.08,0.04],"nice":false,"zero":false},"axis":{"values":[-0.08,-0.06,-0.04,-0.02,0,0.02,0.04],"title":"z (m)","labelExpr":"datum.value < 0 ? '- ' + format(-datum.value,'~g') : format(datum.value,'~g')"}}},
 "layer":[
  {"transform":[{"filter":"datum.s !== '実験値'"}],"mark":{"type":"line","color":"black","strokeWidth":1},"encoding":{"detail":[{"field":"s"},{"field":"g"}]}},
  {"transform":[{"filter":"datum.s === '実験値'"}],"mark":{"type":"line","color":"black","strokeWidth":2.2},"encoding":{"detail":[{"field":"g"}]}},
  {"transform":[{"filter":"datum.s !== '実験値'"}],"mark":{"type":"point","filled":true,"stroke":"black","strokeWidth":0.7,"size":64,"opacity":1},
   "encoding":{
    "shape":{"field":"s","type":"nominal","scale":{"domain":["2dmk2","2dmk3","2dma","2dek","2dmk5"],"range":["M-0.9,-0.25H0.9V0.25H-0.9Z","M-1,-1H1V1H-1Z","M0,-1.1L1.1,0.9H-1.1Z","M-0.8,-0.8L0.8,0.8M-0.8,0.8L0.8,-0.8","M0,-1L0.8,0L0,1L-0.8,0Z"]},"legend":null},
    "fill":{"field":"s","type":"nominal","scale":{"domain":["2dmk2","2dmk3","2dma","2dek","2dmk5","実験値"],"range":["black","#0000ff","#ff0000","transparent","black","black"]},
     "legend":{"title":null,"orient":"none","legendX":97,"legendY":-111,"direction":"horizontal","columns":6,"symbolSize":1764,"symbolType":"M-1,0H-0.3M0.3,0H1M-0.3,-0.3H0.3V0.3H-0.3Z","labelFont":"Liberation Sans, Noto Sans CJK JP","labelFontSize":31,"labelColor":"black","labelOffset":9,"columnPadding":26,"padding":3,"strokeColor":"black","fillColor":"white","labelLimit":400,"symbolStrokeWidth":1,"symbolStrokeColor":"black"}}}}
 ]},
{"title":"Case-CF","width":325,"height":156,"transform":[{"filter":"datum.p == 8"}],
 "encoding":{"x":{"field":"x","type":"quantitative","scale":{"domain":[0,0.6],"nice":false},"axis":{"values":[0,0.1,0.2,0.3,0.4,0.5,0.6],"title":"y (m)","labelExpr":"format(datum.value,'~g')"}},
  "y":{"field":"z","type":"quantitative","scale":{"domain":[-0.12,0.04],"nice":false,"zero":false},"axis":{"values":[-0.12,-0.1,-0.08,-0.06,-0.04,-0.02,0,0.02,0.04],"title":"z (m)","labelExpr":"datum.value < 0 ? '- ' + format(-datum.value,'~g') : format(datum.value,'~g')"}}},
 "layer":[
  {"transform":[{"filter":"datum.s !== '実験値'"}],"mark":{"type":"line","color":"black","strokeWidth":1},"encoding":{"detail":[{"field":"s"},{"field":"g"}]}},
  {"transform":[{"filter":"datum.s === '実験値'"}],"mark":{"type":"line","color":"black","strokeWidth":2.2},"encoding":{"detail":[{"field":"g"}]}},
  {"transform":[{"filter":"datum.s !== '実験値'"}],"mark":{"type":"point","filled":true,"stroke":"black","strokeWidth":0.7,"size":64,"opacity":1},
   "encoding":{
    "shape":{"field":"s","type":"nominal","scale":{"domain":["2dmk2","2dmk3","2dma","2dek","2dmk5"],"range":["M-0.9,-0.25H0.9V0.25H-0.9Z","M-1,-1H1V1H-1Z","M0,-1.1L1.1,0.9H-1.1Z","M-0.8,-0.8L0.8,0.8M-0.8,0.8L0.8,-0.8","M0,-1L0.8,0L0,1L-0.8,0Z"]},"legend":null},
    "fill":{"field":"s","type":"nominal","scale":{"domain":["2dmk2","2dmk3","2dma","2dek","2dmk5","実験値"],"range":["black","#0000ff","#ff0000","transparent","black","black"]},
     "legend":{"title":null,"orient":"none","legendX":97,"legendY":-111,"direction":"horizontal","columns":6,"symbolSize":1764,"symbolType":"M-1,0H-0.3M0.3,0H1M-0.3,-0.3H0.3V0.3H-0.3Z","labelFont":"Liberation Sans, Noto Sans CJK JP","labelFontSize":31,"labelColor":"black","labelOffset":9,"columnPadding":26,"padding":3,"strokeColor":"black","fillColor":"white","labelLimit":400,"symbolStrokeWidth":1,"symbolStrokeColor":"black"}}}}
 ]},
{"title":"Case-CF","width":325,"height":156,"transform":[{"filter":"datum.p == 9"}],
 "encoding":{"x":{"field":"x","type":"quantitative","scale":{"domain":[0,0.6],"nice":false},"axis":{"values":[0,0.1,0.2,0.3,0.4,0.5,0.6],"title":"y (m)","labelExpr":"format(datum.value,'~g')"}},
  "y":{"field":"z","type":"quantitative","scale":{"domain":[-0.04,0.03],"nice":false,"zero":false},"axis":{"values":[-0.04,-0.03,-0.02,-0.01,0,0.01,0.02,0.03],"title":"z (m)","labelExpr":"datum.value < 0 ? '- ' + format(-datum.value,'~g') : format(datum.value,'~g')"}}},
 "layer":[
  {"transform":[{"filter":"datum.s !== '実験値'"}],"mark":{"type":"line","color":"black","strokeWidth":1},"encoding":{"detail":[{"field":"s"},{"field":"g"}]}},
  {"transform":[{"filter":"datum.s === '実験値'"}],"mark":{"type":"line","color":"black","strokeWidth":2.2},"encoding":{"detail":[{"field":"g"}]}},
  {"transform":[{"filter":"datum.s !== '実験値'"}],"mark":{"type":"point","filled":true,"stroke":"black","strokeWidth":0.7,"size":64,"opacity":1},
   "encoding":{
    "shape":{"field":"s","type":"nominal","scale":{"domain":["2dmk2","2dmk3","2dma","2dek","2dmk5"],"range":["M-0.9,-0.25H0.9V0.25H-0.9Z","M-1,-1H1V1H-1Z","M0,-1.1L1.1,0.9H-1.1Z","M-0.8,-0.8L0.8,0.8M-0.8,0.8L0.8,-0.8","M0,-1L0.8,0L0,1L-0.8,0Z"]},"legend":null},
    "fill":{"field":"s","type":"nominal","scale":{"domain":["2dmk2","2dmk3","2dma","2dek","2dmk5","実験値"],"range":["black","#0000ff","#ff0000","transparent","black","black"]},
     "legend":{"title":null,"orient":"none","legendX":97,"legendY":-111,"direction":"horizontal","columns":6,"symbolSize":1764,"symbolType":"M-1,0H-0.3M0.3,0H1M-0.3,-0.3H0.3V0.3H-0.3Z","labelFont":"Liberation Sans, Noto Sans CJK JP","labelFontSize":31,"labelColor":"black","labelOffset":9,"columnPadding":26,"padding":3,"strokeColor":"black","fillColor":"white","labelLimit":400,"symbolStrokeWidth":1,"symbolStrokeColor":"black"}}}}
 ]}
],
"config": {
 "view": {"stroke": "#808080", "strokeWidth": 1},
 "axis": {"labelFont": "DejaVu Sans", "labelFontSize": 8.5, "labelColor": "#222222", "titleFont": "DejaVu Sans", "titleFontSize": 8.5, "titleFontWeight": "normal", "titleColor": "#222222", "domainColor": "black", "domainWidth": 1, "ticks": false, "gridColor": "black", "gridOpacity": 1, "gridWidth": 1},
 "axisX": {"grid": false, "labelPadding": 8, "titlePadding": 6, "labelAngle": 0},
 "axisY": {"grid": true, "labelPadding": 10, "titlePadding": 14},
 "title": {"font": "Liberation Serif", "fontSize": 26, "fontWeight": "normal", "anchor": "start", "frame": "group", "dx": 19, "offset": -4, "baseline": "alphabetic", "color": "black"}
}
}
